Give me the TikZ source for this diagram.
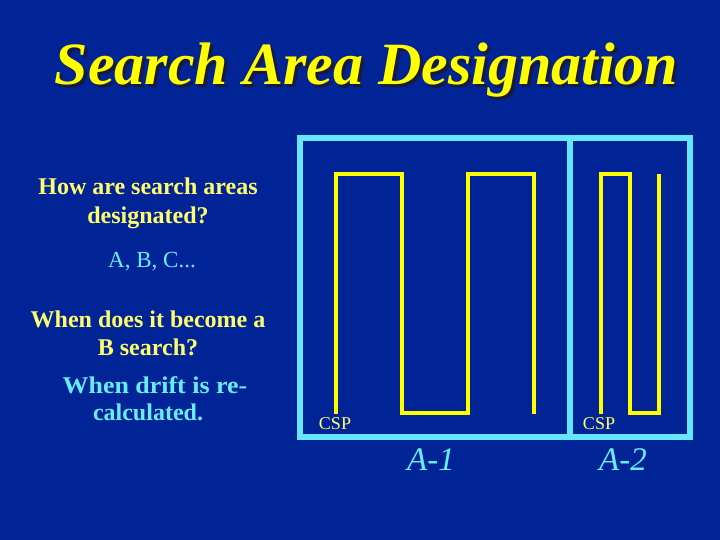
\documentclass[tikz,border=0pt]{standalone}
\usepackage{fontspec}
\setmainfont{Liberation Serif}
\definecolor{bg}{RGB}{0,36,150}
\definecolor{boxcyan}{RGB}{102,230,255}
\definecolor{txtcyan}{RGB}{102,238,255}
\definecolor{ttlyellow}{RGB}{255,255,0}
\definecolor{txtyellow}{RGB}{255,255,110}
\definecolor{shadowc}{RGB}{25,25,60}
\begin{document}
\begin{tikzpicture}[x=1pt,y=-1pt,
  ttl/.style={anchor=base,inner sep=0pt,font=\fontsize{60}{60}\selectfont\bfseries\itshape},
  qtext/.style={anchor=base,inner sep=0pt,text=txtyellow,font=\fontsize{24}{24}\selectfont\bfseries},
  atext/.style={anchor=base,inner sep=0pt,text=txtcyan,font=\fontsize{24}{24}\selectfont\bfseries},
  abc/.style={anchor=base,inner sep=0pt,text=txtcyan,font=\fontsize{23}{23}\selectfont},
  csp/.style={anchor=base,inner sep=0pt,text=txtyellow,font=\fontsize{18}{18}\selectfont},
  arealbl/.style={anchor=base,inner sep=0pt,text=txtcyan,font=\fontsize{33}{33}\selectfont\itshape},
  areabox/.style={draw=boxcyan,line width=6pt},
  track/.style={draw=ttlyellow,line width=4pt}]
\fill[bg] (0,0) rectangle (720,540);
\useasboundingbox (0,0) rectangle (720,540);
% title
\node[ttl,text=shadowc] (titleshadow) at (369.5,88) {Search Area Designation};
\node[ttl,text=ttlyellow] (title) at (366.5,85) {Search Area Designation};
% left text
\node[qtext] (q1a) at (148,195) {How are search areas};
\node[qtext] (q1b) at (148,223) {designated?};
\node[abc] (a1) at (152,267) {A, B, C...};
\node[qtext] (q2a) at (148,327) {When does it become a};
\node[qtext] (q2b) at (148,355) {B search?};
\node[atext,xscale=1.08] (a2a) at (155,393) {When drift is re-};
\node[atext] (a2b) at (148,420) {calculated.};
% search area boxes
\draw[areabox] (300,138) rectangle (690,437);
\draw[areabox] (570,138) -- (570,437);
% track lines
\draw[track] (336,414) -- (336,174) -- (402,174) -- (402,413) -- (468,413) -- (468,174) -- (534,174) -- (534,414);
\draw[track] (601,414) -- (601,174) -- (630,174) -- (630,413) -- (659,413) -- (659,174);
% CSP labels
\node[csp] (csp1) at (335,429) {CSP};
\node[csp] (csp2) at (599,429) {CSP};
% area labels
\node[arealbl] (A1) at (431,470) {A-1};
\node[arealbl] (A2) at (623,470) {A-2};
\end{tikzpicture}
\end{document}
